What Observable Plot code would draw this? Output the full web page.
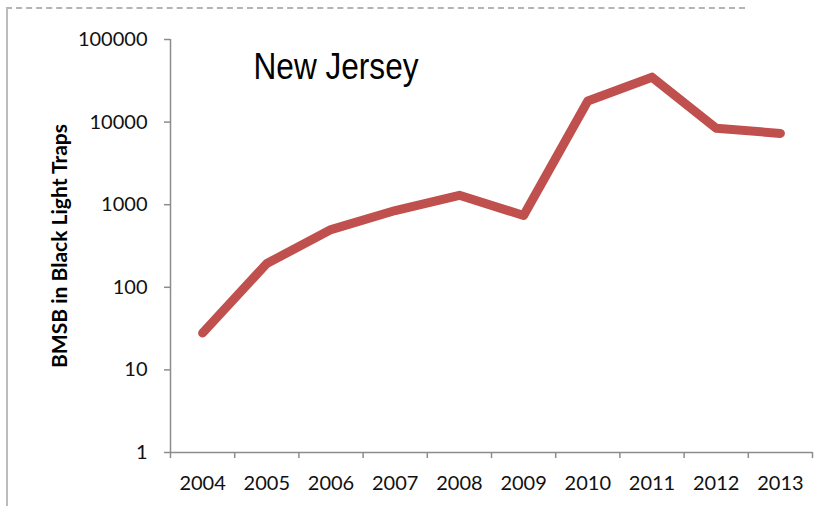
<!DOCTYPE html>
<html><head><meta charset="utf-8">
<script src="https://cdn.jsdelivr.net/npm/d3@7"></script>
<script src="https://cdn.jsdelivr.net/npm/@observablehq/plot@0.6"></script>
<style>
html,body{margin:0;padding:0;background:#fff;}
#wrap{position:relative;width:839px;height:506px;overflow:hidden;}
#frame{position:absolute;left:6px;top:7px;width:737px;height:520px;border-top:2px dashed #b4b4b4;border-left:2px solid #bcbcbc;}
#chart{position:absolute;left:0;top:0;}
</style></head><body><div id="wrap"><div id="frame"></div><div id="chart"></div></div>
<script>
const years = [2004, 2005, 2006, 2007, 2008, 2009, 2010, 2011, 2012, 2013];
const counts = [28, 194, 500, 850, 1300, 740, 18000, 35000, 8400, 7300];
const yTicks = [1, 10, 100, 1000, 10000, 100000];
const title = "New Jersey";
const yLabel = "BMSB in Black Light Traps";

const data = years.map((year, i) => ({year, count: counts[i]}));
const bounds = d3.range(years.length + 1).map(i => years[0] - 0.5 + i);
const axisColor = "#8c8c8c";

const plot = Plot.plot({
  width: 839, height: 506,
  marginLeft: 170, marginRight: 27, marginTop: 39, marginBottom: 54,
  style: {fontFamily: "Lato", background: "transparent"},
  x: {type: "linear", domain: [bounds[0], bounds[bounds.length - 1]]},
  y: {type: "log", domain: [yTicks[0], yTicks[yTicks.length - 1]]},
  marks: [
    Plot.ruleY([yTicks[0]], {stroke: axisColor, strokeWidth: 1.5}),
    Plot.ruleX([bounds[0]], {stroke: axisColor, strokeWidth: 1.5}),
    Plot.axisY({ticks: yTicks, tickFormat: d => String(d), tickSize: 6, tickPadding: 17,
      fontSize: 20, stroke: axisColor, strokeWidth: 1.5, fill: "#111", label: null}),
    Plot.axisX({ticks: bounds, tickSize: 6, tickFormat: () => "", stroke: axisColor, strokeWidth: 1.5, label: null}),
    Plot.axisX({ticks: years, tickSize: 0, tickPadding: 23, tickFormat: d => String(d),
      fontSize: 20, fill: "#111", label: null}),
    Plot.line(data, {x: "year", y: "count", stroke: "#C0504D", strokeWidth: 9,
      strokeLinecap: "round", strokeLinejoin: "round"}),
    Plot.text([title], {frameAnchor: "top-left", dx: 83, dy: 39, lineAnchor: "bottom", textAnchor: "start",
      fontSize: 36, fontFamily: "Liberation Sans", fill: "#000"}),
    Plot.text([yLabel], {frameAnchor: "left", rotate: -90, dx: -110, textAnchor: "middle", lineAnchor: "middle",
      fontWeight: "bold", fontSize: 21, fill: "#000"})
  ]
});
d3.select(plot).selectAll("text").each(function() {
  const t = d3.select(this);
  const s = this.textContent;
  if (s === title) t.attr("textLength", 165).attr("lengthAdjust", "spacingAndGlyphs");
  if (s === yLabel) t.attr("textLength", 244).attr("lengthAdjust", "spacingAndGlyphs");
});
document.getElementById("chart").appendChild(plot);
</script>
</body></html>
